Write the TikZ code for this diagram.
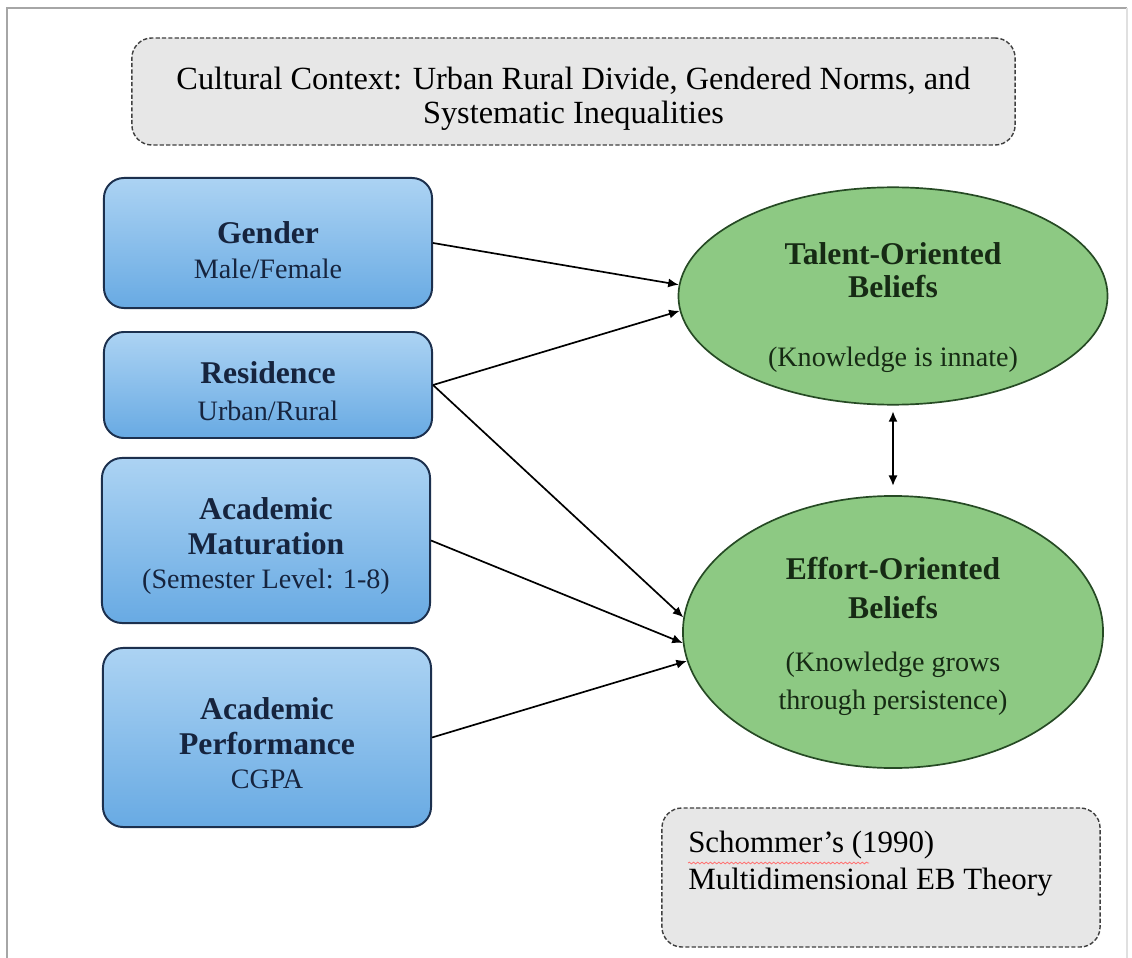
\documentclass[tikz,border=0pt]{standalone}
\usepackage{fontspec}
\setmainfont{Liberation Serif}
\usetikzlibrary{shapes.geometric,arrows.meta,decorations.pathmorphing}
\definecolor{boxtop}{RGB}{172,211,243}
\definecolor{boxbot}{RGB}{104,170,227}
\definecolor{boxline}{RGB}{28,48,78}
\definecolor{boxtext}{RGB}{22,36,62}
\definecolor{beliefgreen}{RGB}{141,201,131}
\definecolor{beliefline}{RGB}{38,74,36}
\definecolor{belieftext}{RGB}{22,42,20}
\definecolor{notegray}{RGB}{231,231,231}
\newcommand{\headline}[1]{{\fontsize{22.5}{26}\selectfont\bfseries #1}}

\begin{document}
\begin{tikzpicture}[x=0.025cm,y=-0.025cm,>={Latex[length=7.5pt,width=6.5pt]},
        factor/.style={draw=boxline,line width=1.4pt,rounded corners=0.5cm,top color=boxtop,bottom color=boxbot,
            text=boxtext,align=center,font=\fontsize{20}{24.5}\selectfont,inner sep=0pt,minimum width=8.2cm},
        belief/.style={ellipse,draw=beliefline,line width=1.2pt,fill=beliefgreen,text=belieftext,
            align=center,font=\fontsize{20}{24}\selectfont,inner sep=0pt},
        note/.style={draw=black!75,dashed,dash pattern=on 3pt off 1.5pt,line width=1pt,rounded corners=0.5cm,
            fill=notegray,inner sep=0pt}]
        \useasboundingbox (0,0) rectangle (1132,958);
        \fill[white] (0,0) rectangle (1132,958);
        \draw[black!35,line width=1.4pt] (7,958) -- (7,8) -- (1127,8);
        \draw[black!12,line width=1pt] (1127,8) -- (1127,958);
        \node[note,minimum width=22.075cm,minimum height=2.675cm,align=center,
            font=\fontsize{23}{24}\selectfont] (context) at (573.5,91.5)
            {\rule{0pt}{26pt}Cultural Context: Urban Rural Divide, Gendered Norms, and\\Systematic Inequalities};
        \node[factor,minimum height=3.25cm] (gender) at (268,243) {\rule{0pt}{26pt}\headline{Gender}\\Male/Female};
        \node[factor,minimum height=2.65cm] (residence) at (268,385) {\rule{0pt}{24pt}\headline{Residence}\\[2pt]Urban/Rural};
        \node[factor,minimum height=4.125cm] (maturation) at (266,540.5)
            {\rule{0pt}{24pt}\headline{Academic}\\\headline{Maturation}\\(Semester Level: 1-8)};
        \node[factor,minimum height=4.475cm] (performance) at (267,737.5)
            {\rule{0pt}{24pt}\headline{Academic}\\\headline{Performance}\\CGPA};
        \node[belief,minimum width=10.725cm,minimum height=5.3cm] (talent) at (893,296)
            {\rule{0pt}{32pt}\headline{Talent-Oriented}\\\headline{Beliefs}\\[25pt](Knowledge is innate)};
        \node[belief,minimum width=10.5cm,minimum height=6.8cm] (effort) at (893,632)
            {\rule{0pt}{22pt}\headline{Effort-Oriented}\\[4pt]\headline{Beliefs}\\[14pt](Knowledge grows\\[3pt]through persistence)};
        \foreach \src/\dst/\ang in {gender/talent/177,residence/talent/184,residence/effort/176,
            maturation/effort/183,performance/effort/188}
            \draw[->,line width=1.2pt] (\src.east) -- (\dst.\ang);
        \draw[<->,line width=1.4pt,shorten <=4pt,shorten >=6.5pt] (talent.south) -- (effort.north);
        \node[note,minimum width=10.95cm,minimum height=3.475cm] (theory) at (881,877.5) {};
        \node[anchor=west,align=left,inner sep=0pt,font=\fontsize{22}{26.3}\selectfont] (theorytext) at (688,864)
            {Schommer’s (1990)\\Multidimensional EB Theory};
        \draw[red!55,line width=0.6pt,decorate,decoration={snake,amplitude=0.6pt,segment length=3pt}]
            (688,863) -- (869,863);
    \end{tikzpicture}
\end{document}
